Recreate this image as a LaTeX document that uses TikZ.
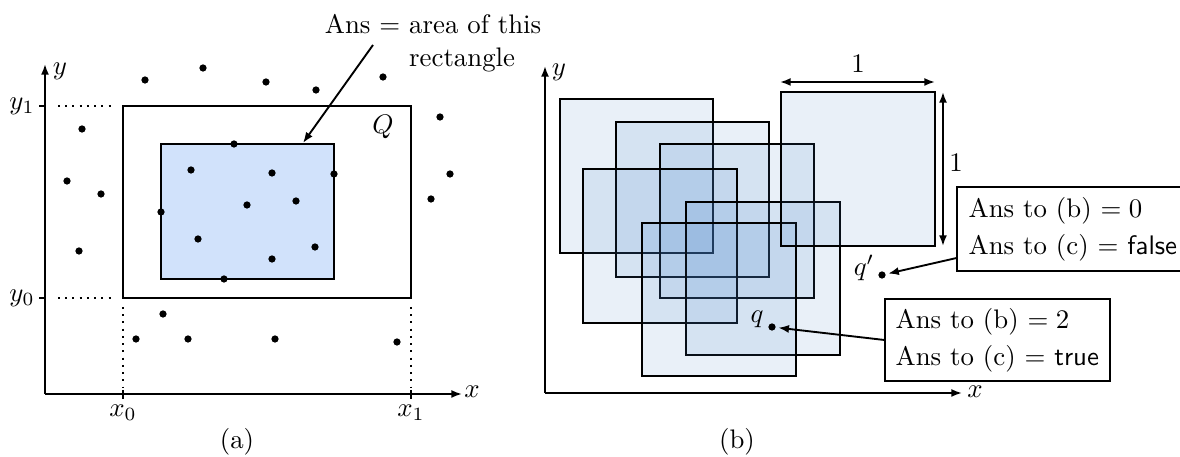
\documentclass[tikz,border=0pt]{standalone}
\usetikzlibrary{arrows.meta,calc}
\begin{document}
\begin{tikzpicture}[x=0.373pt,y=-0.373pt, line width=0.7pt,
  dot/.style={circle,fill=black,inner sep=0pt,minimum size=2.7pt,outer sep=1pt},
  tip/.style={-{Latex[length=4pt,width=3pt]}},
  dtip/.style={{Latex[length=4pt,width=3pt]}-{Latex[length=4pt,width=3pt]}},
  sq/.style={draw=black,fill={rgb,255:red,70;green,130;blue,200},fill opacity=0.12},
  ansbox/.style={draw,align=left,inner xsep=4pt,inner ysep=3.4pt,anchor=north west}]
\path[use as bounding box,clip] (0,0) rectangle (1180,457);

% ---------- (a) ----------
\coordinate (O1) at (45,394);
\coordinate (Y1) at (45,64);
\coordinate (X1) at (462,394);
\draw[tip] (O1) -- (Y1);
\draw[tip] (O1) -- (X1);
\node (ya) at (60,71) {$y$};
\node (xa) at (472,392) {$x$};
\draw (39,106) -- (45,106);
\draw (39,298) -- (45,298);
\draw (123,390) -- (123,399);
\draw (411,390) -- (411,399);
\draw[dotted] (58,106) -- (113,106);
\draw[dotted] (58,298) -- (113,298);
\draw[dotted] (123,307) -- (123,390);
\draw[dotted] (411,307) -- (411,390);
\node (ly1) at (22,106) {$y_1$};
\node (ly0) at (22,298) {$y_0$};
\node (lx0) at (123,413) {$x_0$};
\node (lx1) at (411,413) {$x_1$};
\node (capa) at (237,442) {(a)};

\draw (123,106) rectangle (411,298);
\node (Q) at (383,127) {$Q$};
\draw[fill={rgb,255:red,209;green,226;blue,251}] (161,144) rectangle (334,279);

\foreach \p [count=\i] in {(145,80),(203,68),(266,82),(316,90),(383,77),(440,117),
  (82,129),(234,144),(191,170),(272,173),(334,174),(450,174),(67,181),(101,194),
  (247,205),(296,201),(431,199),(161,212),(198,239),(315,247),(79,251),(272,259),
  (224,279),(163,314),(136,339),(188,339),(275,339),(397,342)}
  \node[dot] (p\i) at \p {};

\node[anchor=base west,inner sep=0pt] (ans) at (324,34)
  {Ans $=$ \begin{tabular}[t]{@{}l@{}}area of this\\rectangle\end{tabular}};
\coordinate (as) at (373,45);
\coordinate (ae) at (303,143);
\draw[tip] (as) -- (ae);

% ---------- (b) ----------
\coordinate (O2) at (545,393);
\coordinate (Y2) at (545,66);
\coordinate (X2) at (962,393);
\draw[tip] (O2) -- (Y2);
\draw[tip] (O2) -- (X2);
\node (yb) at (559,72) {$y$};
\node (xb) at (975,392) {$x$};
\node (capb) at (737,442) {(b)};

\draw[sq] (560,99) rectangle (713,253);
\draw[sq] (616,122) rectangle (769,277);
\draw[sq] (660,144) rectangle (814,298);
\draw[sq] (583,169) rectangle (737,323);
\draw[sq] (686,202) rectangle (840,355);
\draw[sq] (642,223) rectangle (796,376);
\draw[sq] (781,92) rectangle (935,246);

\coordinate (h1) at (780,82);
\coordinate (h2) at (935,82);
\draw[dtip] (h1) -- (h2);
\node (one1) at (858,64) {1};
\coordinate (v1) at (943,92);
\coordinate (v2) at (943,246);
\draw[dtip] (v1) -- (v2);
\node (one2) at (956,163) {1};

\node[dot] (q) at (772,327) {};
\node (ql) at (757,319) {$q$};
\node[dot] (qp) at (882,275) {};
\node (qpl) at (864,268) {$q'$};

\node[ansbox,draw=none,text width=90pt] (b1) at (957,187) {Ans to (b) $= 0$\\[1.8pt]Ans to (c) $=$ \textsf{false}};
\draw (b1.north east) -- (b1.north west) -- (b1.south west) -- (b1.south east);
\node[ansbox] (b2) at (884,298) {Ans to (b) $= 2$\\[1.8pt]Ans to (c) $=$ \textsf{true}};
\draw[tip] ($(b1.south west)+(0,-13)$) -- (qp);
\draw[tip] (b2.west) -- (q);
\end{tikzpicture}
\end{document}
